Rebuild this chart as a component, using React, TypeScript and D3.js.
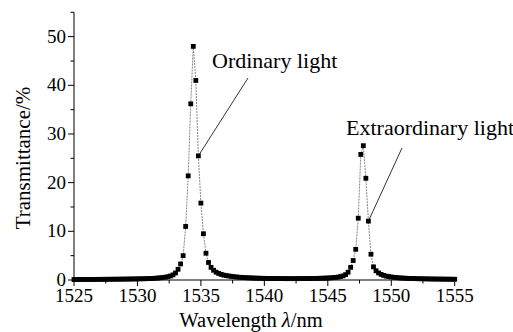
import React from "react";
import * as d3 from "d3";

const wavelength = [
  1525.0, 1525.2, 1525.4, 1525.6, 1525.8, 1526.0, 1526.2, 1526.4, 1526.6, 1526.8,
  1527.0, 1527.2, 1527.4, 1527.6, 1527.8, 1528.0, 1528.2, 1528.4, 1528.6, 1528.8,
  1529.0, 1529.2, 1529.4, 1529.6, 1529.8, 1530.0, 1530.2, 1530.4, 1530.6, 1530.8,
  1531.0, 1531.2, 1531.4, 1531.6, 1531.8, 1532.0, 1532.2, 1532.4, 1532.6, 1532.8,
  1533.0, 1533.2, 1533.4, 1533.6, 1533.8, 1534.0, 1534.2, 1534.4, 1534.6, 1534.8,
  1535.0, 1535.2, 1535.4, 1535.6, 1535.8, 1536.0, 1536.2, 1536.4, 1536.6, 1536.8,
  1537.0, 1537.2, 1537.4, 1537.6, 1537.8, 1538.0, 1538.2, 1538.4, 1538.6, 1538.8,
  1539.0, 1539.2, 1539.4, 1539.6, 1539.8, 1540.0, 1540.2, 1540.4, 1540.6, 1540.8,
  1541.0, 1541.2, 1541.4, 1541.6, 1541.8, 1542.0, 1542.2, 1542.4, 1542.6, 1542.8,
  1543.0, 1543.2, 1543.4, 1543.6, 1543.8, 1544.0, 1544.2, 1544.4, 1544.6, 1544.8,
  1545.0, 1545.2, 1545.4, 1545.6, 1545.8, 1546.0, 1546.2, 1546.4, 1546.6, 1546.8,
  1547.0, 1547.2, 1547.4, 1547.6, 1547.8, 1548.0, 1548.2, 1548.4, 1548.6, 1548.8,
  1549.0, 1549.2, 1549.4, 1549.6, 1549.8, 1550.0, 1550.2, 1550.4, 1550.6, 1550.8,
  1551.0, 1551.2, 1551.4, 1551.6, 1551.8, 1552.0, 1552.2, 1552.4, 1552.6, 1552.8,
  1553.0, 1553.2, 1553.4, 1553.6, 1553.8, 1554.0, 1554.2, 1554.4, 1554.6, 1554.8,
  1555.0,
];

const transmittance = [
  0.10, 0.10, 0.10, 0.11, 0.11, 0.11, 0.12, 0.12, 0.12, 0.13,
  0.13, 0.14, 0.14, 0.15, 0.15, 0.16, 0.16, 0.17, 0.17, 0.18,
  0.19, 0.19, 0.20, 0.21, 0.22, 0.23, 0.24, 0.25, 0.27, 0.28,
  0.30, 0.33, 0.36, 0.40, 0.45, 0.51, 0.58, 0.68, 0.82, 1.05,
  1.45, 2.2, 3.3, 5.0, 11.0, 21.4, 36.2, 48.0, 41.0, 25.5,
  15.8, 9.5, 5.5, 3.6, 2.6, 2.0, 1.6, 1.35, 1.15, 1.0,
  0.9, 0.82, 0.75, 0.68, 0.62, 0.57, 0.53, 0.50, 0.47, 0.44,
  0.42, 0.40, 0.38, 0.36, 0.35, 0.34, 0.33, 0.32, 0.31, 0.30,
  0.30, 0.29, 0.29, 0.28, 0.28, 0.28, 0.28, 0.28, 0.28, 0.29,
  0.29, 0.30, 0.30, 0.31, 0.32, 0.33, 0.34, 0.35, 0.37, 0.39,
  0.41, 0.44, 0.48, 0.53, 0.60, 0.70, 0.85, 1.1, 1.6, 2.6,
  4.0, 6.3, 12.7, 25.8, 27.6, 20.9, 12.1, 5.3, 2.7, 1.9,
  1.45, 1.15, 0.95, 0.80, 0.70, 0.62, 0.55, 0.50, 0.45, 0.41,
  0.38, 0.35, 0.33, 0.31, 0.29, 0.27, 0.26, 0.25, 0.24, 0.23,
  0.22, 0.21, 0.20, 0.19, 0.19, 0.18, 0.17, 0.17, 0.16, 0.16,
  0.15,
];

const xMajorTicks = [1525, 1530, 1535, 1540, 1545, 1550, 1555];
const xMinorTicks = [1527.5, 1532.5, 1537.5, 1542.5, 1547.5, 1552.5];
const yMajorTicks = [0, 10, 20, 30, 40, 50];
const yMinorTicks = [5, 15, 25, 35, 45, 55];

const annotationLabels = ["Ordinary light", "Extraordinary light"];
const annotationTargets = [1534.8, 1548.2];

const FONT = "Liberation Serif, Times New Roman, DejaVu Serif, serif";

export default function App() {
  const W = 513, H = 332;
  const x = d3.scaleLinear().domain([1525, 1555]).range([74, 454.7]);
  const y = d3.scaleLinear().domain([0, 55]).range([280, 12.3]);
  const pts = wavelength.map((w, i) => [w, transmittance[i]] as [number, number]);
  const line = d3.line<[number, number]>().x(d => x(d[0])).y(d => y(d[1]));
  const targetY = annotationTargets.map(t => {
    const i = wavelength.findIndex(w => Math.abs(w - t) < 1e-6);
    return transmittance[i];
  });
  const annot = [
    { text: annotationLabels[0], tx: 212, ty: 68, lx: 248, ly: 78, px: x(annotationTargets[0]), py: y(targetY[0]) },
    { text: annotationLabels[1], tx: 346, ty: 135, lx: 402, ly: 148, px: x(annotationTargets[1]), py: y(targetY[1]) },
  ];
  const ts = { fontFamily: FONT } as React.CSSProperties;
  return (
    <svg width={W} height={H} style={{ position: "absolute", left: 0, top: 0, background: "#fff" }}>
      <rect width={W} height={H} fill="#fff" />
      <line x1={x(1525)} x2={x(1555)} y1={y(0)} y2={y(0)} stroke="#000" strokeWidth={1} />
      <line x1={x(1525)} x2={x(1525)} y1={y(0)} y2={y(55)} stroke="#000" strokeWidth={1} />
      {xMajorTicks.map(t => (
        <g key={"xm" + t}>
          <line x1={x(t)} x2={x(t)} y1={y(0)} y2={y(0) + 6} stroke="#000" />
          <text x={x(t)} y={302} textAnchor="middle" style={ts} fontSize={19}>{t}</text>
        </g>
      ))}
      {xMinorTicks.map(t => (
        <line key={"xn" + t} x1={x(t)} x2={x(t)} y1={y(0)} y2={y(0) + 3.5} stroke="#000" />
      ))}
      {yMajorTicks.map(t => (
        <g key={"ym" + t}>
          <line x1={x(1525) - 6} x2={x(1525)} y1={y(t)} y2={y(t)} stroke="#000" />
          <text x={66} y={y(t) + 6} textAnchor="end" style={ts} fontSize={19}>{t}</text>
        </g>
      ))}
      {yMinorTicks.map(t => (
        <line key={"yn" + t} x1={x(1525) - 3.5} x2={x(1525)} y1={y(t)} y2={y(t)} stroke="#000" />
      ))}
      <path d={line(pts) || ""} fill="none" stroke="#666" strokeWidth={0.8} strokeDasharray="2,1" />
      {pts.map((p, i) => (
        <rect key={i} x={x(p[0]) - 2.4} y={y(p[1]) - 2.4} width={4.8} height={4.8} fill="#000" />
      ))}
      {annot.map(a => (
        <g key={a.text}>
          <text x={a.tx} y={a.ty} style={ts} fontSize={22}>{a.text}</text>
          <line x1={a.lx} y1={a.ly} x2={a.px} y2={a.py} stroke="#000" strokeWidth={0.8} />
        </g>
      ))}
      <text x={251} y={327} textAnchor="middle" style={ts} fontSize={20.5}>
        Wavelength <tspan fontStyle="italic">λ</tspan>/nm
      </text>
      <text transform="translate(30,158) rotate(-90)" textAnchor="middle" style={ts} fontSize={21}>
        Transmittance/%
      </text>
    </svg>
  );
}
